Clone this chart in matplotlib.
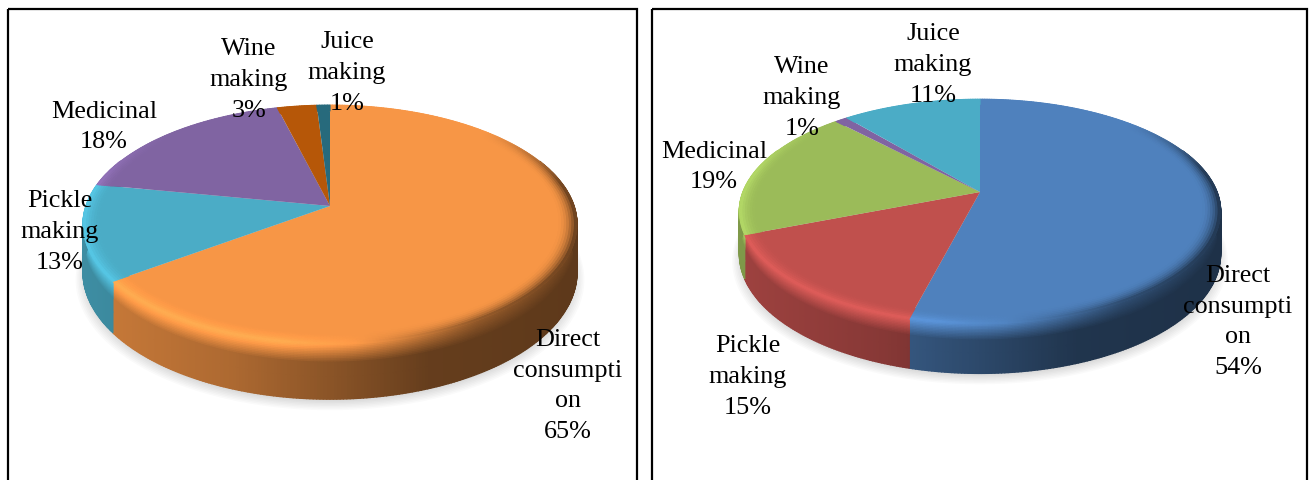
import numpy as np
import matplotlib
matplotlib.use("Agg")
import matplotlib.pyplot as plt
from matplotlib.collections import PolyCollection
from matplotlib.patches import Rectangle
from matplotlib.transforms import Transform

plt.rcParams['font.family'] = ['Liberation Serif', 'DejaVu Serif']

# data
labels_left = ["Direct\nconsumpti\non\n65%", "Pickle\nmaking\n13%", "Medicinal\n18%", "Wine\nmaking\n3%", "Juice\nmaking\n1%"]
values_left = [65, 13, 18, 3, 1]
colors_left = ["#F79646", "#4BACC6", "#8064A2", "#B65708", "#276A7C"]

labels_right = ["Direct\nconsumpti\non\n54%", "Pickle\nmaking\n15%", "Medicinal\n19%", "Wine\nmaking\n1%", "Juice\nmaking\n11%"]
values_right = [54, 15, 19, 1, 11]
colors_right = ["#4F81BD", "#C0504D", "#9BBB59", "#8064A2", "#4BACC6"]

# label centres in pixels
label_pos_left = [(568, 386), (60, 232), (104, 127), (249, 80), (347, 73)]
label_pos_right = [(1238, 322), (748, 377), (714, 167), (802, 98), (933, 65)]


# maps the unit disc to the tilted pie top, far side smaller
class Tilt(Transform):
    input_dims = 2
    output_dims = 2
    is_affine = False
    has_inverse = False

    def __init__(self, cx, cy, a, b, k, drop=0.0):
        super().__init__()
        self.cx, self.cy, self.a, self.b, self.k, self.drop = cx, cy, a, b, k, drop

    def transform_non_affine(self, values):
        values = np.asarray(values, dtype=float)
        u, v = values[:, 0], values[:, 1]
        w = 1 + self.k * v
        return np.column_stack([self.cx + self.a * u / w,
                                self.cy - (self.b * v - self.drop) / w])


def side_shade(xn):
    return np.interp(xn, [-1, -0.4, 0, 0.4, 1], [0.82, 0.7, 0.56, 0.41, 0.38])


def edge_shade(xn):
    return np.interp(xn, [-1, -0.2, 0.1, 0.6, 1], [1.15, 1.15, 1.03, 0.6, 0.45])


def draw_pie(ax, values, colors, cx, cy, a, b, k, drop):
    top = Tilt(cx, cy, a, b, k)
    bottom = Tilt(cx, cy, a, b, k, drop)

    # soft shadow under the pie
    t = np.linspace(0, 2 * np.pi, 200)
    disc = np.column_stack([np.sin(t), np.cos(t)])
    for i in range(8):
        grow = 1.03 - i * 0.006
        off = Tilt(cx, cy + 7 - i * 0.6, a * grow, b * grow, k, drop)
        ax.fill(*off.transform_non_affine(disc).T, color="#000000", alpha=0.018, lw=0, zorder=1)

    # side wall and bevel, cut in small quads for the gradient
    quads, quad_colors = [], []
    edges = 360 * np.concatenate([[0], np.cumsum(values)]) / np.sum(values)
    for i, color in enumerate(colors):
        base = np.array(matplotlib.colors.to_rgb(color))
        n = max(int((edges[i + 1] - edges[i]) * 1.5), 2)
        th = np.radians(np.linspace(edges[i], edges[i + 1], n + 1))
        u, v = np.sin(th), np.cos(th)
        xn = (top.transform_non_affine(np.column_stack([u, v]))[:, 0] - cx) / a

        # wall rows: fraction of the drop, fine near the bevel
        rows = np.concatenate([np.arange(0, 0.36, 0.03), [0.6, 1.0]])
        upper = top.transform_non_affine(np.column_stack([u, v]))
        lower = bottom.transform_non_affine(np.column_stack([u, v]))
        for r in range(len(rows) - 1):
            p0 = upper + (lower - upper) * rows[r]
            p1 = upper + (lower - upper) * rows[r + 1]
            for j in range(n):
                if v[j] > 0.4 and v[j + 1] > 0.4:
                    continue
                xm = 0.5 * (xn[j] + xn[j + 1])
                fade = min(1.0, rows[r] / 0.33)
                shade = edge_shade(xm) * (1 - fade) + side_shade(xm) * fade
                quads.append([p0[j], p0[j + 1], p1[j + 1], p1[j]])
                quad_colors.append(np.clip(base * shade, 0, 1))

    walls = PolyCollection(quads, facecolors=quad_colors, edgecolors=quad_colors, linewidths=1.0, zorder=2)
    ax.add_collection(walls)

    # top face
    wedges, _ = ax.pie(values, colors=colors, startangle=90, counterclock=False,
                       wedgeprops={"linewidth": 0})
    for wedge in wedges:
        wedge.set_transform(top + ax.transData)
        wedge.set_zorder(3)

    # bevel ring on the top face
    quads, quad_colors = [], []
    radii = np.linspace(0.93, 1.0, 8)
    for i, color in enumerate(colors):
        base = np.array(matplotlib.colors.to_rgb(color))
        n = max(int((edges[i + 1] - edges[i]) * 1.5), 2)
        th = np.radians(np.linspace(edges[i], edges[i + 1], n + 1))
        u, v = np.sin(th), np.cos(th)
        for r in range(len(radii) - 1):
            p0 = top.transform_non_affine(np.column_stack([radii[r] * u, radii[r] * v]))
            p1 = top.transform_non_affine(np.column_stack([radii[r + 1] * u, radii[r + 1] * v]))
            s = (r + 1) / (len(radii) - 1)
            for j in range(n):
                xm = (0.5 * (p0[j, 0] + p0[j + 1, 0]) - cx) / a
                vm = 0.5 * (v[j] + v[j + 1])
                w = np.clip((0.7 - vm) / 0.5, 0, 1)
                shade = 1 + (edge_shade(xm) - 1) * w * s ** 2
                quads.append([p0[j], p0[j + 1], p1[j + 1], p1[j]])
                quad_colors.append(np.clip(base * shade, 0, 1))
    ring = PolyCollection(quads, facecolors=quad_colors, edgecolors=quad_colors, linewidths=0.6, zorder=4)
    ax.add_collection(ring)


fig = plt.figure(figsize=(13.1, 4.81), dpi=100)
ax = fig.add_axes([0, 0, 1, 1])

draw_pie(ax, values_left, colors_left, 330, 207, 244, 116.7, 0.155, 46.5)
draw_pie(ax, values_right, colors_right, 980, 193, 237, 109, 0.173, 41)

ax.set_aspect("auto")
ax.set_xlim(0, 1310)
ax.set_ylim(481, 0)
ax.axis("off")

for names, positions in [(labels_left, label_pos_left), (labels_right, label_pos_right)]:
    for name, (x, y) in zip(names, positions):
        ax.text(x, y, name, ha="center", va="center", fontsize=18.8, linespacing=1.52,
                color="black", zorder=6)

# panel frames run off the bottom of the image
ax.add_patch(Rectangle((8, 10), 629, 500, fill=False, ec="black", lw=1.6, zorder=7))
ax.add_patch(Rectangle((652, 10), 655, 500, fill=False, ec="black", lw=1.6, zorder=7))

fig.savefig("out.png", dpi=100)
